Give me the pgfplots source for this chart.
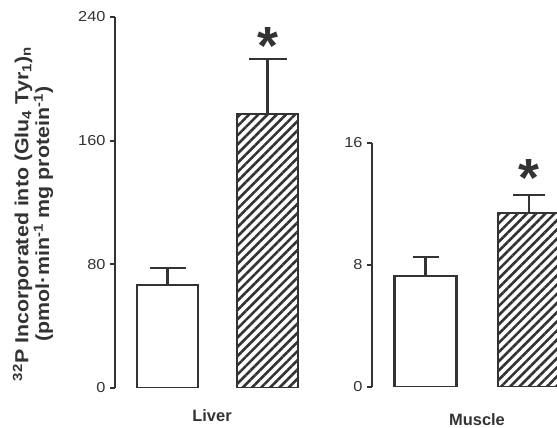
\documentclass[border=0pt]{standalone}
\usepackage{pgfplots}
\pgfplotsset{compat=1.18}
\usepackage{fontspec}
\setmainfont{Liberation Sans}
\newfontfamily\widefont[FakeStretch=1.13]{Liberation Sans}
\usetikzlibrary{patterns.meta}
\definecolor{ink}{gray}{0.2}
\pgfplotsset{
  error bars/error bar style={ink, line width=2.1bp},
  panel/.style={
    scale only axis,
    anchor=south west,
    axis y line=left,
    axis x line=none,
    axis line style={-, ink, line width=2.1bp},
    every outer y axis line/.append style={-, ink, line width=2.1bp},
    y axis line style={-, ink, line width=2.1bp},
    y tick style={ink, line width=2.1bp},
    tick align=outside,
    major tick length=5bp,
    ymin=0,
    yticklabel style={font=\widefont\fontsize{14.5}{14.5}\selectfont, text=ink, xshift=-1bp},
    /pgf/number format/assume math mode=true,
    ybar, bar shift=0pt,
    clip=true,
  },
  openbar/.style={draw=ink, fill=white, line width=2.1bp},
  hatchbar/.style={draw=ink, line width=2.1bp,
     pattern={Lines[angle=45,distance=6.5bp,line width=2.6bp]}, pattern color=ink},
  eb/.style={error bars/.cd, y dir=plus, y explicit,
     error bar style={ink, line width=2.1bp, solid},
     error mark options={ink, line width=2.1bp, mark size=#1, rotate=90}},
}
\begin{document}
\begin{tikzpicture}
\useasboundingbox (0,0) rectangle (557bp,428bp);
% Liver panel
\begin{axis}[panel,
  at={(115bp,40bp)}, width=215bp, height=371bp,
  xmin=115, xmax=330, ymax=240, ytick={0,80,160,240},
  bar width=61,
]
\addplot[openbar, eb=18bp]
  coordinates {(167.5,66.6) +- (0,11.0)};
\addplot[hatchbar, eb=19bp]
  coordinates {(267.5,177) +- (0,36)};
\node[font=\bfseries\fontsize{54}{54}\selectfont, text=ink] at (axis cs:267.5,221) {*};
\end{axis}
% Muscle panel
\begin{axis}[panel,
  at={(372bp,41bp)}, width=185bp, height=244bp,
  xmin=372, xmax=557, ymax=16, ytick={0,8,16},
  bar width=62,
]
\addplot[openbar, eb=13bp]
  coordinates {(425.5,7.25) +- (0,1.25)};
\addplot[hatchbar, eb=16bp]
  coordinates {(529,11.4) +- (0,1.2)};
\node[font=\bfseries\fontsize{54}{54}\selectfont, text=ink] at (axis cs:529,13.7) {*};
\end{axis}
% labels
\node[font=\bfseries\fontsize{16.5}{16.5}\selectfont, text=ink] at (212bp,12bp) {Liver};
\node[font=\bfseries\fontsize{16.5}{16.5}\selectfont, text=ink] at (477bp,8bp) {Muscle};
\node[rotate=90, align=center, font=\widefont\bfseries\fontsize{19}{21}\selectfont, text=ink]
  at (33bp,214bp) {\textsuperscript{32}P Incorporated into (Glu\textsubscript{4} Tyr\textsubscript{1})\textsubscript{n}\\
  (pmol·min\textsuperscript{-1} mg protein\textsuperscript{-1})};
\end{tikzpicture}
\end{document}
